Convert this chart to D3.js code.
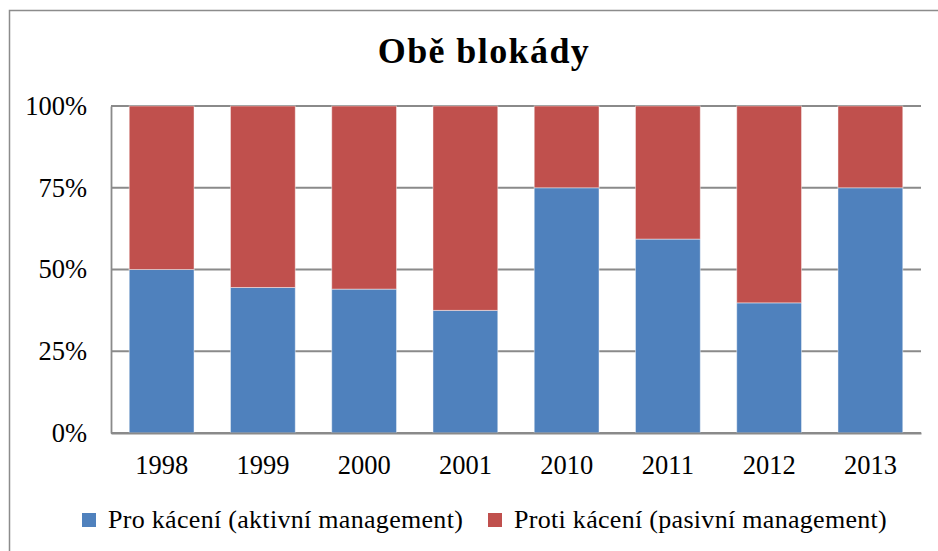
<!DOCTYPE html>
<html>
<head>
    <meta charset="utf-8">
    <script src="https://cdn.jsdelivr.net/npm/d3@7"></script>
    <title>Obě blokády</title>
    <style>
        body { margin: 0; background: #fff; }
    </style>
</head>
<body>
<svg id="chart"></svg>
<script>
    // data (share of answers, %)
    var years = ['1998', '1999', '2000', '2001', '2010', '2011', '2012', '2013']
    var proKaceni = [50, 44.5, 44, 37.5, 75, 59.3, 39.8, 75]
    var protiKaceni = [50, 55.5, 56, 62.5, 25, 40.7, 60.2, 25]
    var seriesNames = ['Pro kácení (aktivní management)', 'Proti kácení (pasivní management)']
    var colors = ['#4F81BD', '#C0504D']
    var yTicks = [0, 25, 50, 75, 100]

    var FONT = "'Liberation Serif', 'Times New Roman', serif"
    var W = 938, H = 551
    var svg = d3.select('#chart').attr('width', W).attr('height', H)
        .style('font-family', FONT)

    // outer frame (runs off the right and bottom edge like the original)
    svg.append('rect')
        .attr('x', 9.5).attr('y', 10.5)
        .attr('width', W).attr('height', H)
        .attr('fill', 'none').attr('stroke', '#8c8c8c').attr('stroke-width', 1.5)

    svg.append('text')
        .attr('x', 484).attr('y', 63)
        .attr('text-anchor', 'middle')
        .style('font-family', FONT)
        .style('letter-spacing', '1.4px')
        .attr('font-size', 36).attr('font-weight', 'bold')
        .text('Obě blokády')

    var plot = { left: 111, right: 921, top: 106, bottom: 433 }

    var x = d3.scaleBand().domain(years)
        .range([plot.left, plot.right])
        .paddingInner(0.36).paddingOuter(0.18)
    var y = d3.scaleLinear().domain([0, 100]).range([plot.bottom, plot.top])

    // grid lines
    svg.append('g').selectAll('line').data(yTicks).join('line')
        .attr('x1', plot.left).attr('x2', plot.right)
        .attr('y1', function (d) { return y(d) }).attr('y2', function (d) { return y(d) })
        .attr('stroke', '#8a8a8a').attr('stroke-width', 1.8)

    // stacked bars
    var table = years.map(function (yr, i) { return { year: yr, a: proKaceni[i], b: protiKaceni[i] } })
    var stacked = d3.stack().keys(['a', 'b'])(table)

    svg.append('g').selectAll('g').data(stacked).join('g')
        .attr('fill', function (d, i) { return colors[i] })
        .selectAll('rect').data(function (d) { return d }).join('rect')
        .attr('x', function (d) { return x(d.data.year) })
        .attr('width', x.bandwidth())
        .attr('y', function (d) { return y(d[1]) })
        .attr('height', function (d) { return y(d[0]) - y(d[1]) })
        .attr('stroke', 'rgba(255,255,255,0.45)').attr('stroke-width', 1)

    // axes
    var yAxis = svg.append('g')
        .attr('transform', 'translate(' + plot.left + ',0)')
        .call(d3.axisLeft(y).tickValues(yTicks).tickSize(0).tickPadding(24)
            .tickFormat(function (d) { return d + '%' }))
    yAxis.attr('font-family', null).style('font-family', FONT)
    yAxis.select('.domain').attr('stroke', '#8a8a8a').attr('stroke-width', 1.8)
    yAxis.selectAll('text').attr('font-size', 26.5).style('font-family', FONT).style('fill', '#000').attr('dy', '0.32em')

    var xAxis = svg.append('g')
        .attr('transform', 'translate(0,' + plot.bottom + ')')
        .call(d3.axisBottom(x).tickSize(0).tickPadding(22))
    xAxis.attr('font-family', null).style('font-family', FONT)
    xAxis.select('.domain').attr('stroke', '#8a8a8a').attr('stroke-width', 1.8)
    xAxis.selectAll('text').attr('font-size', 26.5).style('font-family', FONT).style('fill', '#000')

    // legend
    var legendX = [82, 488]
    var lg = svg.append('g').selectAll('g').data(seriesNames).join('g')
        .attr('transform', function (d, i) { return 'translate(' + legendX[i] + ',513)' })
    lg.append('rect').attr('width', 14).attr('height', 14)
        .attr('fill', function (d, i) { return colors[i] })
    lg.append('text').attr('x', 26).attr('y', 15)
        .attr('font-size', 26).style('font-family', FONT)
        .style('letter-spacing', '0.3px')
        .text(function (d) { return d })
</script>
</body>
</html>
